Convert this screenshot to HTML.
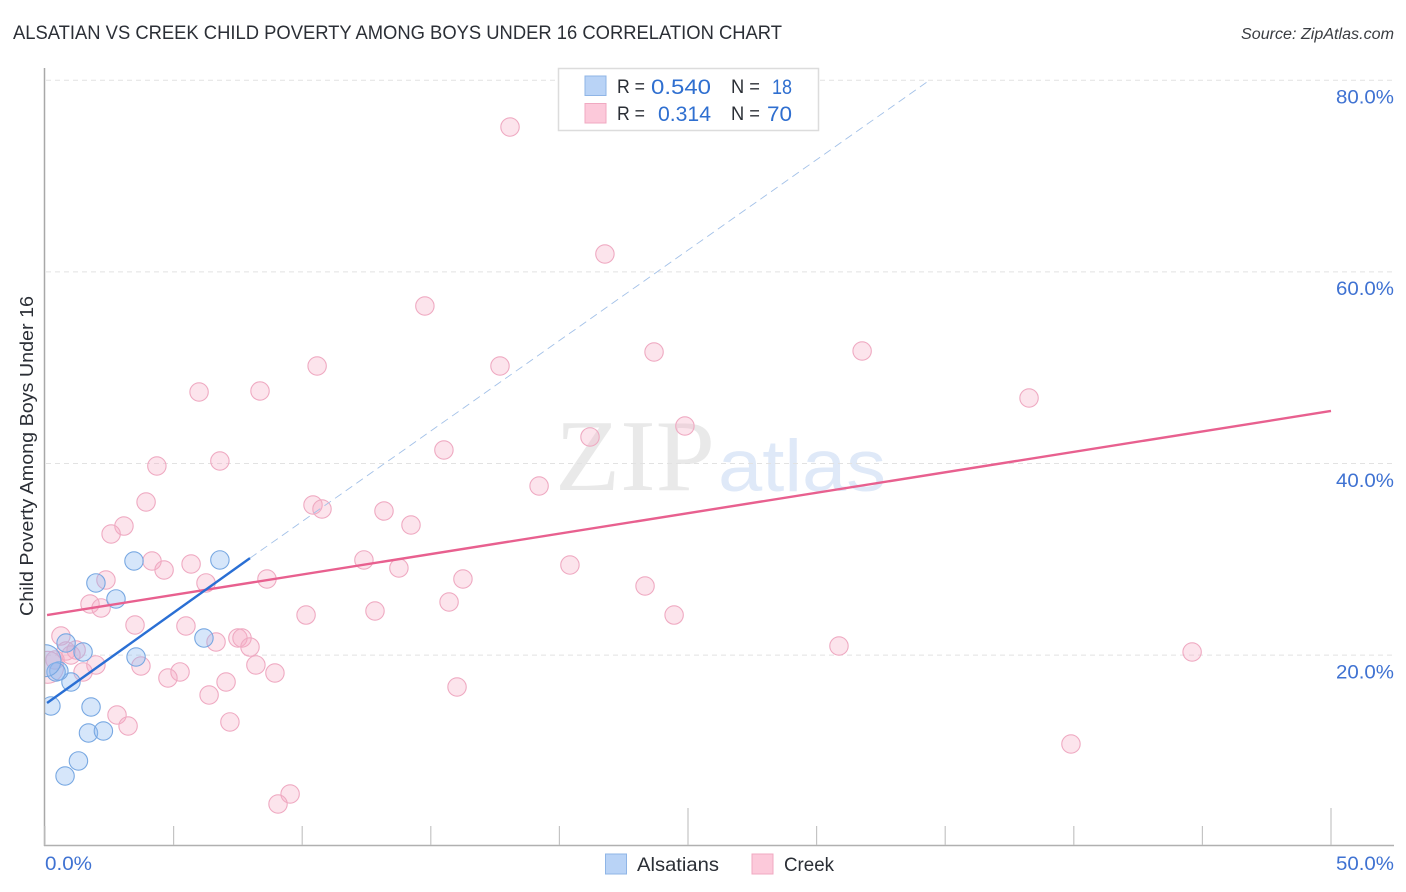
<!DOCTYPE html>
<html lang="en">
<head>
<meta charset="utf-8">
<title>Alsatian vs Creek Child Poverty Among Boys Under 16 Correlation Chart</title>
<style>
html,body{margin:0;padding:0;background:#fff;width:1406px;height:892px;overflow:hidden}
svg{display:block;font-family:"Liberation Sans",sans-serif}
</style>
</head>
<body>
<svg id="chart" xmlns="http://www.w3.org/2000/svg" width="1406" height="892" viewBox="0 0 1406 892">
  <rect width="1406" height="892" fill="#fff"/>
  <text x="13" y="39" font-size="19" fill="#2b2f36" textLength="769" lengthAdjust="spacingAndGlyphs">ALSATIAN VS CREEK CHILD POVERTY AMONG BOYS UNDER 16 CORRELATION CHART</text>
  <text x="1241" y="39" font-size="15.5" font-style="italic" fill="#3a3d42" textLength="153" lengthAdjust="spacingAndGlyphs">Source: ZipAtlas.com</text>
  <g>
    <text x="555" y="490" font-family="'Liberation Serif',serif" font-size="102" fill="#e9e9e9" textLength="160" lengthAdjust="spacingAndGlyphs">ZIP</text>
    <text x="718" y="491" font-size="73" fill="#dfe9f8" textLength="168" lengthAdjust="spacingAndGlyphs">atlas</text>
  </g>
  <g id="grid-layer"></g>
  <g id="creek-layer"></g>
  <g id="alsatian-layer"></g>
  <rect x="0" y="60" width="45" height="786" fill="#fff"/>
  <g id="axis-layer"></g>
  <g id="trend-layer"></g>
  <text transform="translate(33,616) rotate(-90)" font-size="18.5" fill="#2b2f36" textLength="320" lengthAdjust="spacingAndGlyphs">Child Poverty Among Boys Under 16</text>

  <g>
    <rect x="558.5" y="68.5" width="260" height="62" fill="#fff" stroke="#dcdcdc" stroke-width="1.5"/>
    <rect x="585" y="76" width="21" height="19.5" fill="#b9d3f6" stroke="#8fb5e6" stroke-width="1"/>
    <rect x="585" y="103.5" width="21" height="19.5" fill="#fcc9da" stroke="#f0a9c1" stroke-width="1"/>
    <text x="617" y="93" font-size="19" fill="#2b2f36" textLength="28" lengthAdjust="spacingAndGlyphs">R =</text>
    <text x="651" y="94" font-size="21" fill="#2f6fd0" textLength="60" lengthAdjust="spacingAndGlyphs">0.540</text>
    <text x="731" y="93" font-size="19" fill="#2b2f36" textLength="29" lengthAdjust="spacingAndGlyphs">N =</text>
    <text x="772" y="94" font-size="21" fill="#2f6fd0" textLength="20" lengthAdjust="spacingAndGlyphs">18</text>
    <text x="617" y="120" font-size="19" fill="#2b2f36" textLength="28" lengthAdjust="spacingAndGlyphs">R =</text>
    <text x="658" y="121" font-size="21" fill="#2f6fd0" textLength="53" lengthAdjust="spacingAndGlyphs">0.314</text>
    <text x="731" y="120" font-size="19" fill="#2b2f36" textLength="29" lengthAdjust="spacingAndGlyphs">N =</text>
    <text x="767" y="121" font-size="21" fill="#2f6fd0" textLength="25" lengthAdjust="spacingAndGlyphs">70</text>
  </g>

  <g>
    <rect x="605.5" y="854" width="21" height="20" fill="#b9d3f6" stroke="#8fb5e6" stroke-width="1"/>
    <text x="637" y="871" font-size="19.5" fill="#2b2f36" textLength="82" lengthAdjust="spacingAndGlyphs">Alsatians</text>
    <rect x="752" y="854" width="21" height="20" fill="#fcc9da" stroke="#f0a9c1" stroke-width="1"/>
    <text x="784" y="871" font-size="19.5" fill="#2b2f36" textLength="50" lengthAdjust="spacingAndGlyphs">Creek</text>
  </g>
</svg>
<script>
const xTickValues = [0, 5, 10, 15, 20, 25, 30, 35, 40, 45, 50];
const xMajorTicks = [25, 50];
const xTickLabels = ['0.0%', '50.0%'];
const xLabelValues = [0, 50];
const yTickValues = [20, 40, 60, 80];
const yTickLabels = ['20.0%', '40.0%', '60.0%', '80.0%'];

const alsatianX = [0.78, 1.30, 1.69, 2.27, 1.79, 0.23, 1.01, 0.54, 0.43, 1.48, 0.82, 3.54, 6.18, 2.76, 1.98, 3.46, 6.80, 0.00];
const alsatianY = [7.36, 8.93, 11.85, 12.06, 14.56, 14.67, 17.17, 18.32, 18.22, 20.30, 21.24, 19.78, 21.76, 25.84, 27.51, 29.80, 29.91, 19.40];

const creekX = [18.08, 21.77, 14.77, 23.68, 31.77, 17.69, 10.58, 8.36, 5.99, 38.26, 24.88, 21.19, 15.51, 6.80, 4.35, 19.21, 3.93, 10.42, 10.77, 13.18, 14.23, 3.07, 2.57, 12.40, 4.16, 20.41, 5.68, 4.63, 13.76, 16.25, 8.63, 2.37, 6.26, 23.33, 1.75, 2.18, 15.71, 12.83, 10.15, 24.46, 3.50, 5.48, 0.62, 6.65, 7.50, 7.66, 7.97, 30.87, 44.60, 1.21, 0.82, 1.01, 1.98, 0.39, 0.10, 1.48, 8.20, 3.73, 5.25, 8.94, 4.78, 7.04, 16.02, 6.38, 2.80, 3.23, 7.19, 39.89, 9.53, 9.06];
const creekY = [75.10, 61.85, 56.42, 51.62, 51.72, 50.16, 50.16, 47.55, 47.44, 46.82, 43.89, 42.75, 41.39, 40.24, 39.72, 37.63, 35.96, 35.65, 35.23, 35.02, 33.56, 33.45, 32.62, 29.91, 29.80, 29.38, 29.49, 28.86, 29.07, 27.92, 27.92, 27.82, 27.51, 27.19, 25.31, 24.90, 25.52, 24.58, 24.16, 24.16, 23.12, 23.02, 21.97, 21.35, 21.76, 21.76, 20.82, 20.93, 20.30, 20.51, 20.41, 19.99, 18.95, 19.47, 18.70, 18.22, 18.95, 18.84, 18.22, 18.11, 17.59, 17.17, 16.65, 15.81, 13.73, 12.58, 13.00, 10.70, 5.48, 4.44];

const alsatianTrendX = [0.08, 7.97];
const alsatianTrendY = [14.98, 30.10];
const alsatianExtensionX = [7.97, 34.40];
const alsatianExtensionY = [30.10, 80.00];
const creekTrendX = [0.08, 50];
const creekTrendY = [24.16, 45.46];

const NS = 'http://www.w3.org/2000/svg';
function sx(v) { return 45 + v * 25.72; }
function sy(v) { return 846.5 - v * 9.58; }
function radius(xv) { return xv < 0.2 ? 16 : 9.2; }
function make(tag, attrs, parent) {
  const el = document.createElementNS(NS, tag);
  for (const k in attrs) el.setAttribute(k, attrs[k]);
  parent.appendChild(el);
  return el;
}

const gridLayer = document.getElementById('grid-layer');
const axisLayer = document.getElementById('axis-layer');
const creekLayer = document.getElementById('creek-layer');
const alsatianLayer = document.getElementById('alsatian-layer');
const trendLayer = document.getElementById('trend-layer');

yTickValues.forEach(function (v, i) {
  const g = make('line', {x1: 46, x2: 1394, y1: sy(v) + 0.2, y2: sy(v) + 0.2, stroke: '#e2e2e2', 'stroke-width': 1, 'stroke-dasharray': '5 4'}, gridLayer);
  
  
  const t = make('text', {x: 1394, y: sy(v) + 23.5, 'text-anchor': 'end', 'font-size': 19.5, fill: '#3f72d2', textLength: 58, lengthAdjust: 'spacingAndGlyphs'}, axisLayer);
  t.textContent = yTickLabels[i];
  
  
});

const yAxis = make('line', {x1: 44.5, x2: 44.5, y1: 68, y2: 846, stroke: '#a8a8a8', 'stroke-width': 1.5}, axisLayer);


const xAxis = make('line', {x1: 44, x2: 1394, y1: 845.5, y2: 845.5, stroke: '#b0b0b0', 'stroke-width': 1.5}, axisLayer);



xTickValues.forEach(function (v) {
  const top = xMajorTicks.indexOf(v) >= 0 ? 808 : 826;
  const tick = make('line', {x1: sx(v), x2: sx(v), y1: top, y2: 845, stroke: '#c4c4c4', 'stroke-width': 1.2}, axisLayer);
  
  
});

xLabelValues.forEach(function (v, i) {
  const t = make('text', {x: i === 0 ? sx(v) : 1394, y: 870, 'text-anchor': i === 0 ? 'start' : 'end', 'font-size': 19.5, fill: '#3f72d2', textLength: i === 0 ? 47 : 58, lengthAdjust: 'spacingAndGlyphs'}, axisLayer);
  t.textContent = xTickLabels[i];
  
  
});

creekX.forEach(function (v, i) {
  const c = make('circle', {cx: sx(v), cy: sy(creekY[i]), r: radius(v), fill: 'rgba(247,170,196,0.32)', stroke: '#efaac2', 'stroke-width': 1.1}, creekLayer);
  
  
});

alsatianX.forEach(function (v, i) {
  const c = make('circle', {cx: sx(v), cy: sy(alsatianY[i]), r: radius(v), fill: 'rgba(140,185,240,0.36)', stroke: '#78a8e2', 'stroke-width': 1.1}, alsatianLayer);
  
  
});

const extension = make('line', {x1: sx(alsatianExtensionX[0]), y1: sy(alsatianExtensionY[0]), x2: sx(alsatianExtensionX[1]), y2: sy(alsatianExtensionY[1]), stroke: '#a3c1e8', 'stroke-width': 0.9, 'stroke-dasharray': '8 5'}, trendLayer);


const creekTrend = make('line', {x1: sx(creekTrendX[0]), y1: sy(creekTrendY[0]), x2: sx(creekTrendX[1]), y2: sy(creekTrendY[1]), stroke: '#e8608f', 'stroke-width': 2.4}, trendLayer);


const alsatianTrend = make('line', {x1: sx(alsatianTrendX[0]), y1: sy(alsatianTrendY[0]), x2: sx(alsatianTrendX[1]), y2: sy(alsatianTrendY[1]), stroke: '#2a6fd4', 'stroke-width': 2.4}, trendLayer);


</script>
</body>
</html>
